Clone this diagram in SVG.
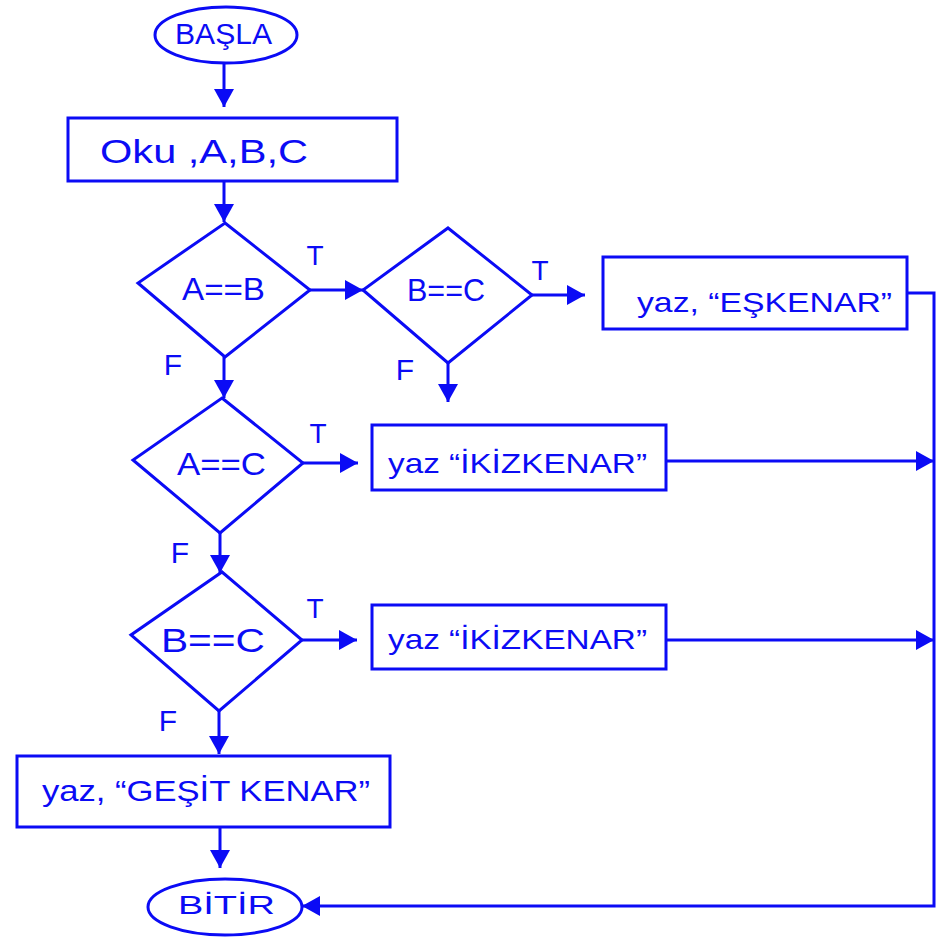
<svg xmlns="http://www.w3.org/2000/svg" width="938" height="937" viewBox="0 0 938 937">
<style>
.s{fill:#fff;stroke:#0b0bf5;stroke-width:3}
.c{fill:none;stroke:#0b0bf5;stroke-width:3}
.t{fill:#0b0bf5;font-family:"Liberation Sans",Arial,sans-serif}
.m{text-anchor:middle}
</style>
<defs>
<marker id="ah" viewBox="0 0 18 20" refX="18" refY="10" markerWidth="18" markerHeight="20" markerUnits="userSpaceOnUse" orient="auto">
<path d="M0,0 L18,10 L0,20 z" fill="#0b0bf5"/>
</marker>
</defs>
<rect width="938" height="937" fill="#fff"/>
<g id="connectors">
<path class="c" d="M224,63 V107" marker-end="url(#ah)"/>
<path class="c" d="M224,181 V222" marker-end="url(#ah)"/>
<path class="c" d="M310,290 H363" marker-end="url(#ah)"/>
<path class="c" d="M532,295 H585" marker-end="url(#ah)"/>
<path class="c" d="M448,363 V402" marker-end="url(#ah)"/>
<path class="c" d="M224,357 V398" marker-end="url(#ah)"/>
<path class="c" d="M303,463 H358" marker-end="url(#ah)"/>
<path class="c" d="M220,533 V573" marker-end="url(#ah)"/>
<path class="c" d="M302,640 H357" marker-end="url(#ah)"/>
<path class="c" d="M219,711 V754" marker-end="url(#ah)"/>
<path class="c" d="M220,827 V868" marker-end="url(#ah)"/>
<path class="c" d="M907,293 H934 V906 H302" marker-end="url(#ah)"/>
<path class="c" d="M666,461 H934" marker-end="url(#ah)"/>
<path class="c" d="M666,640 H934" marker-end="url(#ah)"/>
</g>
<g id="labels">
<text class="t m" x="315" y="265" font-size="28">T</text>
<text class="t m" x="540" y="280" font-size="28">T</text>
<text class="t m" x="318" y="443" font-size="28">T</text>
<text class="t m" x="315" y="618" font-size="28">T</text>
<text class="t m" x="173" y="375" font-size="30">F</text>
<text class="t m" x="405" y="380" font-size="30">F</text>
<text class="t m" x="180" y="563" font-size="30">F</text>
<text class="t m" x="168" y="731" font-size="30">F</text>
</g>
<g id="start">
<ellipse class="s" cx="226" cy="35" rx="71" ry="28"/>
<text class="t" x="175" y="44" font-size="30" textLength="97" lengthAdjust="spacingAndGlyphs">BAŞLA</text>
</g>
<g id="read">
<rect class="s" x="68" y="118" width="329" height="63"/>
<text class="t" x="100" y="163" font-size="34" textLength="208" lengthAdjust="spacingAndGlyphs">Oku ,A,B,C</text>
</g>
<g id="d1">
<path class="s" d="M225,223 L310,290 L225,357 L138,283 Z"/>
<text class="t" x="182" y="300" font-size="32" textLength="83" lengthAdjust="spacingAndGlyphs">A==B</text>
</g>
<g id="d2">
<path class="s" d="M448,228 L532,295 L448,363 L363,290 Z"/>
<text class="t" x="407" y="301" font-size="32" textLength="78" lengthAdjust="spacingAndGlyphs">B==C</text>
</g>
<g id="eskenar">
<rect class="s" x="603" y="257" width="304" height="72"/>
<text class="t" x="637" y="312" font-size="28" textLength="255" lengthAdjust="spacingAndGlyphs">yaz, “EŞKENAR”</text>
</g>
<g id="d3">
<path class="s" d="M222,398 L303,463 L220,533 L133,460 Z"/>
<text class="t" x="177" y="475" font-size="32" textLength="89" lengthAdjust="spacingAndGlyphs">A==C</text>
</g>
<g id="ikiz1">
<rect class="s" x="372" y="425" width="294" height="65"/>
<text class="t" x="388" y="473" font-size="28" textLength="259" lengthAdjust="spacingAndGlyphs">yaz “İKİZKENAR”</text>
</g>
<g id="d4">
<path class="s" d="M222,572 L302,640 L219,711 L131,635 Z"/>
<text class="t" x="161" y="652" font-size="34" textLength="104" lengthAdjust="spacingAndGlyphs">B==C</text>
</g>
<g id="ikiz2">
<rect class="s" x="372" y="605" width="294" height="64"/>
<text class="t" x="388" y="649" font-size="28" textLength="259" lengthAdjust="spacingAndGlyphs">yaz “İKİZKENAR”</text>
</g>
<g id="cesit">
<rect class="s" x="17" y="756" width="373" height="71"/>
<text class="t" x="42" y="801" font-size="30" textLength="328" lengthAdjust="spacingAndGlyphs">yaz, “GEŞİT KENAR”</text>
</g>
<g id="end">
<ellipse class="s" cx="225" cy="907" rx="77" ry="28"/>
<text class="t" x="178" y="914" font-size="26" textLength="97" lengthAdjust="spacingAndGlyphs">BİTİR</text>
</g>
</svg>
